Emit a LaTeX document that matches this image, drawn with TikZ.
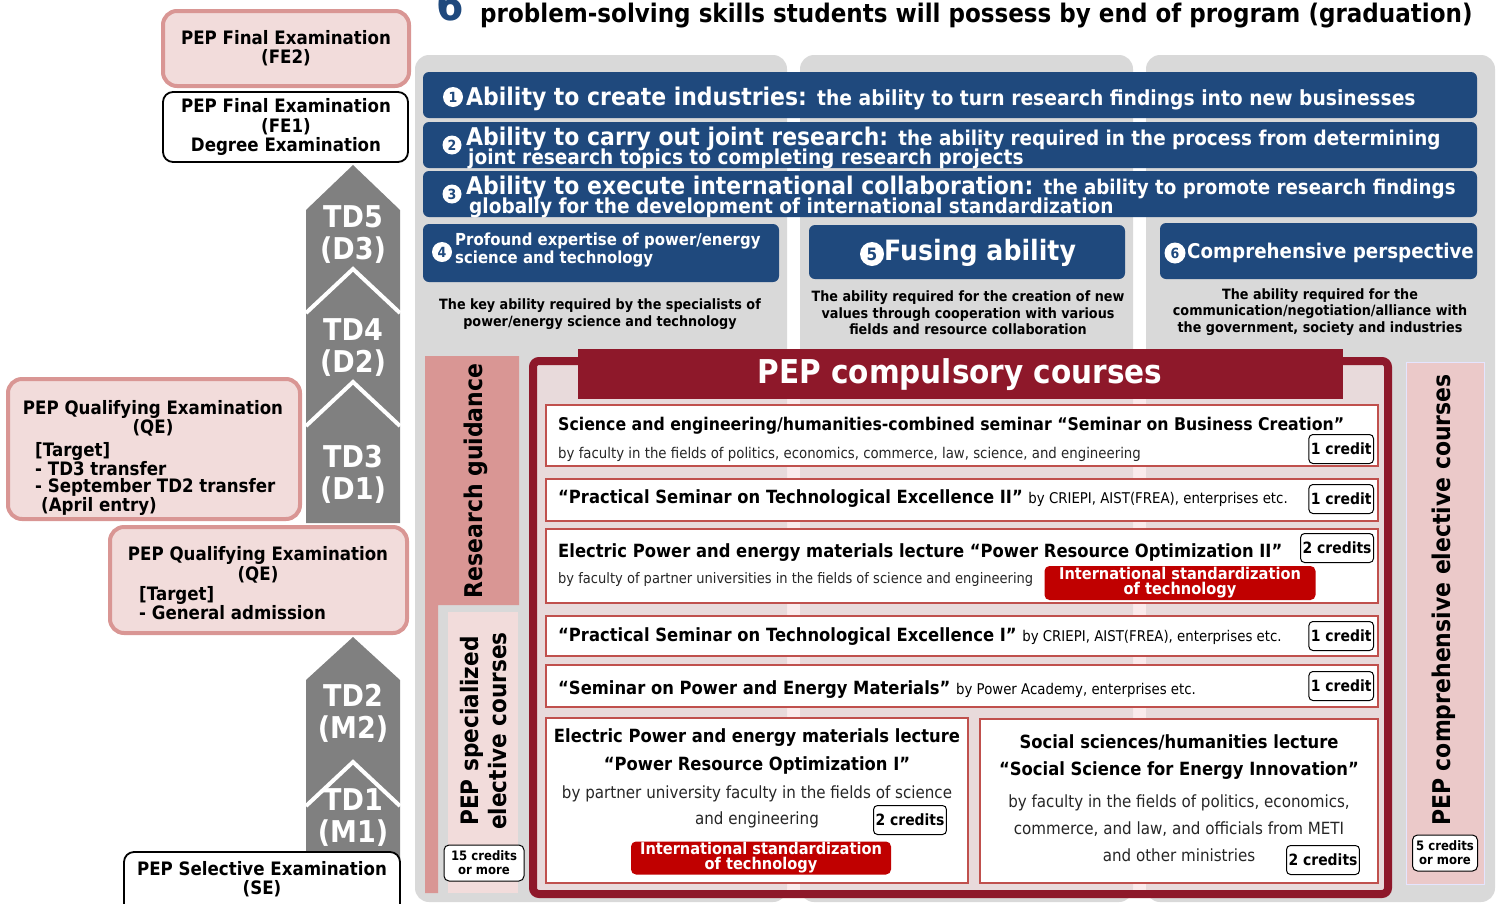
\documentclass[tikz,border=0pt]{standalone}
\usepackage{fontspec}
\setmainfont{DejaVu Sans}[FakeStretch=0.9]

\definecolor{pepblue}{HTML}{1F497D}
\definecolor{pepred}{HTML}{8E182A}
\definecolor{tagred}{HTML}{C00000}
\definecolor{rose}{HTML}{D99694}
\definecolor{lightpink}{HTML}{F2DCDB}
\definecolor{framepink}{HTML}{F6DBDD}
\definecolor{combpink}{HTML}{EBC9C9}
\definecolor{colgray}{HTML}{D9D9D9}
\definecolor{arrowgray}{HTML}{808080}
\definecolor{boxline}{HTML}{C0504D}

\tikzset{
  exambox/.style={draw=rose, line width=4pt, fill=lightpink, rounded corners=14pt},
  whitebox/.style={draw=black, line width=1.8pt, fill=white, rounded corners=10pt},
  examtext/.style={align=center, inner sep=0pt, font=\fontsize{18.5}{19.5}\selectfont\bfseries},
  listtext/.style={anchor=north west, align=left, inner sep=0pt, font=\fontsize{18.5}{17}\selectfont\bfseries},
  tdtext/.style={align=center, text=white, inner sep=0pt, font=\fontsize{30}{32}\selectfont\bfseries},
  banner/.style={fill=pepblue, rounded corners=6pt},
  numdisc/.style={circle, fill=white, text=pepblue, inner sep=0pt, font=\fontsize{14}{14}\selectfont\bfseries},
  bannertext/.style={anchor=base west, text=white, inner sep=0pt, font=\fontsize{24.4}{25}\selectfont\bfseries},
  desctext/.style={align=center, inner sep=0pt, font=\fontsize{14.2}{16.5}\selectfont\bfseries},
  sidetext/.style={rotate=90, align=center, inner sep=0pt, font=\fontsize{24.4}{28}\selectfont\bfseries},
  coursebox/.style={draw=boxline, line width=1.2pt, fill=white},
  coursetitle/.style={anchor=base west, inner sep=0pt, font=\fontsize{18.2}{19}\selectfont\bfseries},
  coursenote/.style={anchor=base west, inner sep=0pt, text=black!85, font=\fontsize{14.8}{15}\selectfont},
  bodytext/.style={align=center, inner sep=0pt, text=black!85, font=\fontsize{16.8}{26}\selectfont},
  creditbox/.style={draw=black, line width=1pt, fill=white, rounded corners=4pt, inner sep=2pt,
    minimum height=29pt, font=\fontsize{15.5}{16}\selectfont\bfseries},
  smallcredit/.style={draw=black, line width=1pt, fill=white, rounded corners=5pt, inner sep=2pt,
    align=center, font=\fontsize{13}{14}\selectfont\bfseries},
  tagbox/.style={fill=tagred, rounded corners=5pt, text=white, align=center, inner sep=0pt,
    font=\fontsize{16.2}{15}\selectfont\bfseries}
}

\begin{document}
\begin{tikzpicture}[x=1pt, y=-1pt]

    % Fix the page to the size of the picture
    \useasboundingbox (0,0) rectangle (1497,903);
    \clip (0,0) rectangle (1497,903);

    % Draw the title
    \node[anchor=base west, inner sep=0pt, text=pepblue, font=\fontsize{44}{44}\selectfont\bfseries] (six) at (436,20) {6};
    \node[anchor=base west, inner sep=0pt, font=\fontsize{25.6}{26}\selectfont\bfseries] (title) at (480,22)
        {problem-solving skills students will possess by end of program (graduation)};

    % Draw the exam boxes on the left
    \filldraw[exambox] (163,11) rectangle (409,86);
    \node[examtext] (fe2) at (286,48) {PEP Final Examination\\(FE2)};
    \filldraw[whitebox] (163,92) rectangle (408,162);
    \node[examtext] (fe1) at (286,127) {PEP Final Examination\\(FE1)\\Degree Examination};

    \filldraw[exambox] (8,379) rectangle (300,519);
    \node[examtext, font=\fontsize{18.5}{18}\selectfont\bfseries] (qe1) at (153,418) {PEP Qualifying Examination\\(QE)};
    \node[listtext] (qe1list) at (35,442) {[Target]\\- TD3 transfer\\- September TD2 transfer\\\hspace{6pt}(April entry)};

    \filldraw[exambox] (110,527) rectangle (407,633);
    \node[examtext] (qe2) at (258,565) {PEP Qualifying Examination\\(QE)};
    \node[listtext, font=\fontsize{18.5}{19}\selectfont\bfseries] (qe2list) at (139,586) {[Target]\\- General admission};

    % Draw the arrows of the years
    \fill[arrowgray] (353,165) -- (400,210) -- (400,523) -- (306,523) -- (306,210) -- cycle;
    \fill[arrowgray] (353,637) -- (400,680) -- (400,860) -- (306,860) -- (306,680) -- cycle;
    \foreach \y in {269, 382, 762}
        \draw[white, line width=4pt] (306,\y+44) -- (353,\y) -- (400,\y+44);
    \foreach \name/\yr/\y in {TD5/D3/235, TD4/D2/348, TD3/D1/474, TD2/M2/713, TD1/M1/818}
        \node[tdtext] (\name) at (353,\y) {\name\\(\yr)};

    \filldraw[whitebox] (124,852) rectangle (400,920);
    \node[examtext] (se) at (262,879) {PEP Selective Examination\\(SE)};

    % Draw the gray columns behind the skills
    \foreach \xa/\xb in {415/787, 800/1133, 1146/1495}
        \fill[colgray, rounded corners=14pt] (\xa,55) rectangle (\xb,902);

    % Draw the skill banners
    \fill[banner] (423,72) rectangle (1477,118);
    \fill[banner] (423,122) rectangle (1477,168);
    \fill[banner] (423,171) rectangle (1477,217);
    \fill[banner] (423,224) rectangle (779,282);
    \fill[banner] (809,225) rectangle (1125,279);
    \fill[banner] (1160,223) rectangle (1477,279);

    \node[numdisc, minimum size=20pt] (n1) at (453,97) {1};
    \node[bannertext] (b1) at (466,105)
        {Ability to create industries: {\fontsize{20.8}{21}\selectfont the ability to turn research findings into new businesses}};
    \node[numdisc, minimum size=19pt] (n2) at (452,145) {2};
    \node[bannertext] (b2) at (466,145)
        {Ability to carry out joint research: {\fontsize{20.4}{21}\selectfont the ability required in the process from determining}};
    \node[bannertext, font=\fontsize{20.6}{21}\selectfont\bfseries] (b2b) at (468,164) {joint research topics to completing research projects};
    \node[numdisc, minimum size=19pt] (n3) at (452,194) {3};
    \node[bannertext] (b3) at (466,194)
        {Ability to execute international collaboration: {\fontsize{20.3}{21}\selectfont the ability to promote research findings}};
    \node[bannertext, font=\fontsize{20.6}{21}\selectfont\bfseries] (b3b) at (469,213) {globally for the development of international standardization};

    \node[numdisc, minimum size=20pt] (n4) at (442,252) {4};
    \node[anchor=west, align=left, text=white, inner sep=0pt, font=\fontsize{16.6}{18}\selectfont\bfseries] (b4) at (455,250)
        {Profound expertise of power/energy\\science and technology};
    \node[numdisc, minimum size=24pt, font=\fontsize{17}{17}\selectfont\bfseries] (n5) at (872,254) {5};
    \node[anchor=west, text=white, inner sep=0pt, font=\fontsize{28}{28}\selectfont\bfseries] (b5) at (884,253) {Fusing ability};
    \node[numdisc, minimum size=21pt] (n6) at (1175,253) {6};
    \node[anchor=west, text=white, inner sep=0pt, font=\fontsize{20.3}{20}\selectfont\bfseries] (b6) at (1187,253) {Comprehensive perspective};

    % Describe the skills
    \node[desctext] (d4) at (600,314) {The key ability required by the specialists of\\power/energy science and technology};
    \node[desctext] (d5) at (968,313) {The ability required for the creation of new\\values through cooperation with various\\fields and resource collaboration};
    \node[desctext] (d6) at (1320,312) {The ability required for the\\communication/negotiation/alliance with\\the government, society and industries};

    % Draw the research guidance and the specialized electives
    \fill[rose] (425,356) -- (519,356) -- (519,605) -- (438,605) -- (438,893) -- (425,893) -- cycle;
    \node[sidetext] (guide) at (476,481) {Research guidance};
    \fill[lightpink] (448,612) rectangle (518,893);
    \node[sidetext, font=\fontsize{24}{28}\selectfont\bfseries] (spec) at (484,731) {PEP specialized\\elective courses};
    \node[smallcredit, minimum width=80pt, minimum height=36pt] (specc) at (484,863) {15 credits\\or more};

    % Draw the frame of the compulsory courses
    \filldraw[draw=pepred, line width=8pt, fill=framepink, fill opacity=0.55, rounded corners=6pt] (533,361) rectangle (1388,894);
    \fill[pepred] (578,349) rectangle (1343,399);
    \node[text=white, inner sep=0pt, font=\fontsize{32.8}{33}\selectfont\bfseries] (comp) at (960,375) {PEP compulsory courses};

    % Draw the compulsory courses
    \filldraw[coursebox] (546,405) rectangle (1378,466);
    \node[coursetitle, font=\fontsize{17.5}{18}\selectfont\bfseries] (c1) at (558,430) {Science and engineering/humanities-combined seminar “Seminar on Business Creation”};
    \node[coursenote] (c1n) at (558,458) {by faculty in the fields of politics, economics, commerce, law, science, and engineering};
    \node[creditbox, anchor=east] (c1c) at (1374,449) {1 credit};

    \filldraw[coursebox] (546,479) rectangle (1378,521);
    \node[coursetitle] (c2) at (558,503)
        {“Practical Seminar on Technological Excellence II” {\fontsize{14.8}{15}\selectfont\mdseries by CRIEPI, AIST(FREA), enterprises etc.}};
    \node[creditbox, anchor=east] (c2c) at (1374,499) {1 credit};

    \filldraw[coursebox] (546,529) rectangle (1378,603);
    \node[coursetitle] (c3) at (558,557) {Electric Power and energy materials lecture “Power Resource Optimization II”};
    \node[creditbox, anchor=east] (c3c) at (1374,548) {2 credits};
    \node[coursenote, font=\fontsize{14.5}{15}\selectfont] (c3n) at (558,583) {by faculty of partner universities in the fields of science and engineering};
    \node[tagbox, minimum width=271pt, minimum height=34pt] (c3t) at (1180,583) {International standardization\\of technology};

    \filldraw[coursebox] (546,616) rectangle (1378,656);
    \node[coursetitle] (c4) at (558,641)
        {“Practical Seminar on Technological Excellence I” {\fontsize{14.8}{15}\selectfont\mdseries by CRIEPI, AIST(FREA), enterprises etc.}};
    \node[creditbox, anchor=east] (c4c) at (1374,636) {1 credit};

    \filldraw[coursebox] (546,665) rectangle (1378,707);
    \node[coursetitle] (c5) at (558,694)
        {“Seminar on Power and Energy Materials” {\fontsize{14.8}{15}\selectfont\mdseries by Power Academy, enterprises etc.}};
    \node[creditbox, anchor=east] (c5c) at (1374,686) {1 credit};

    \filldraw[coursebox] (546,718) rectangle (968,883);
    \node[align=center, inner sep=0pt, font=\fontsize{18.2}{28}\selectfont\bfseries] (c6) at (757,751)
        {Electric Power and energy materials lecture\\“Power Resource Optimization I”};
    \node[bodytext] (c6b) at (757,807) {by partner university faculty in the fields of science\\and engineering};
    \node[creditbox] (c6c) at (910,820) {2 credits};
    \node[tagbox, minimum width=260pt, minimum height=33pt] (c6t) at (761,858) {International standardization\\of technology};

    \filldraw[coursebox] (980,719) rectangle (1378,883);
    \node[align=center, inner sep=0pt, font=\fontsize{18.2}{27}\selectfont\bfseries] (c7) at (1179,757)
        {Social sciences/humanities lecture\\“Social Science for Energy Innovation”};
    \node[bodytext, font=\fontsize{16.8}{27}\selectfont] (c7b) at (1179,828)
        {by faculty in the fields of politics, economics,\\commerce, and law, and officials from METI\\and other ministries};
    \node[creditbox] (c7c) at (1323,860) {2 credits};

    % Draw the comprehensive electives
    \filldraw[fill=combpink, draw=blue!10] (1406,362) rectangle (1484,884);
    \node[sidetext] (compr) at (1444,600) {PEP comprehensive elective courses};
    \node[smallcredit, minimum width=65pt, minimum height=36pt] (comprc) at (1445,853) {5 credits\\or more};

\end{tikzpicture}
\end{document}
